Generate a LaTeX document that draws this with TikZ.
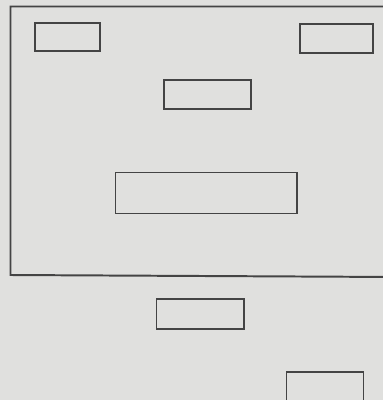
\documentclass[tikz,border=0pt]{standalone}
\usepackage{xcolor}
\usepackage{tikz}
\usetikzlibrary{positioning}
\definecolor{paper}{RGB}{224,224,222}
\definecolor{pencil}{RGB}{68,68,68}

\begin{document}
\begin{tikzpicture}[x=0.05cm, y=-0.05cm,
    box/.style={rectangle, draw=pencil, line width=2.8pt, anchor=north west, inner sep=0pt},
    frame/.style={draw=pencil, line width=2.8pt}]
        % page
        \fill[paper] (0,0) rectangle (383,400);
        \useasboundingbox (0,0) rectangle (383,400);
        \clip (0,0) rectangle (383,400);
        % outer frame, right edge runs off the page
        \draw[frame] (10.5,6.5) -- (395,6.5) -- (395,277) -- (10.5,275) -- cycle;
        % boxes inside the frame
        \node[box, minimum width=3.25cm, minimum height=1.4cm] (topleft) at (34,22) {};
        \node[box, minimum width=3.65cm, minimum height=1.45cm] (topright) at (299,23) {};
        \node[box, minimum width=4.35cm, minimum height=1.45cm] (middle) at (163,79) {};
        \node[box, minimum width=9.1cm, minimum height=2.05cm] (wide) at (114.5,171.5) {};
        % boxes below the frame
        \node[box, minimum width=4.4cm, minimum height=1.5cm] (below) at (155.5,298) {};
        \node[box, minimum width=3.85cm, minimum height=2cm] (corner) at (285.5,371) {};
      \end{tikzpicture}
\end{document}
